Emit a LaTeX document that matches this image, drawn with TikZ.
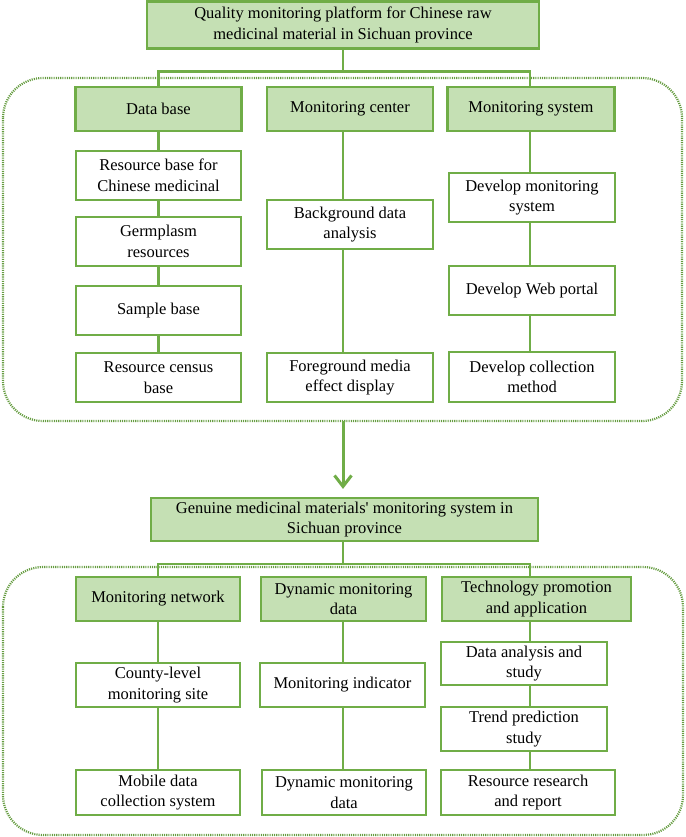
\documentclass[tikz,border=0pt]{standalone}
\usepackage{fontspec}
\setmainfont{Liberation Serif}[Ligatures=TeXOff]
\usetikzlibrary{arrows.meta}
\definecolor{leaf}{HTML}{70AD47}
\definecolor{leafbg}{HTML}{C5E0B4}

\begin{document}
\begin{tikzpicture}[x=1pt,y=-1pt]
	\tikzstyle{every node}+=[inner sep=0pt, align=center, font=\fontsize{16.5}{20.5}\selectfont]
	\tikzstyle{hbox}=[draw=leaf, fill=leafbg, line width=2.2pt]
	\tikzstyle{wbox}=[draw=leaf, fill=white, line width=2.2pt]
	\tikzstyle{link}=[draw=leaf, line width=2.2pt]
	\tikzstyle{frame}=[draw=leaf!90!black, line width=2.2pt, dash pattern=on 1.1pt off 1.1pt, rounded corners=40pt]
	\useasboundingbox (0,0) rectangle (685,837);
	\draw [frame] (3,78) rectangle (682,421);
	\draw [frame] (3,567) rectangle (683,835);
	\coordinate (f1s) at (343,421);
	\coordinate (lane3) at (530,0);
	\node [hbox, minimum width=392pt, minimum height=47pt] (top) at (343,25) {Quality monitoring platform for Chinese raw\\medicinal material in Sichuan province};
	\node [hbox, minimum width=166pt, minimum height=44pt] (db) at (158.5,109) {Data base};
	\node [hbox, minimum width=166pt, minimum height=44pt] (mc) at (350,109) {Monitoring center};
	\node [hbox, minimum width=167pt, minimum height=44pt] (ms) at (531,109) {Monitoring system};
	\node [wbox, minimum width=165pt, minimum height=49pt] (r1) at (158.5,175.5) {Resource base for\\Chinese medicinal};
	\node [wbox, minimum width=165pt, minimum height=49pt] (r2) at (158.5,241.5) {Germplasm\\resources};
	\node [wbox, minimum width=165pt, minimum height=49pt] (r3) at (158.5,310.5) {Sample base};
	\node [wbox, minimum width=165pt, minimum height=49pt] (r4) at (158.5,377.5) {Resource census\\base};
	\node [wbox, minimum width=166pt, minimum height=49pt] (bg) at (350,224.5) {Background data\\analysis};
	\node [wbox, minimum width=166pt, minimum height=49pt] (fg) at (350,377.5) {Foreground media\\effect display};
	\node [wbox, minimum width=166pt, minimum height=49pt] (d1) at (532,197.5) {Develop monitoring\\system};
	\node [wbox, minimum width=166pt, minimum height=49pt] (d2) at (532,290.5) {Develop Web portal};
	\node [wbox, minimum width=166pt, minimum height=50pt] (d3) at (532,377) {Develop collection\\method};
	\node [hbox, minimum width=387pt, minimum height=43pt] (gen) at (344.5,519.5) {Genuine medicinal materials{\char39} monitoring system in\\Sichuan province};
	\node [hbox, minimum width=164pt, minimum height=44pt] (mn) at (158,599) {Monitoring network};
	\node [hbox, minimum width=165pt, minimum height=44pt] (dm) at (343.5,599) {Dynamic monitoring\\data};
	\node [hbox, minimum width=189pt, minimum height=44pt] (tp) at (536.5,599) {Technology promotion\\and application};
	\node [wbox, minimum width=164pt, minimum height=44pt] (cs) at (158,685) {County-level\\monitoring site};
	\node [wbox, minimum width=164pt, minimum height=45pt] (mb) at (158,792.5) {Mobile data\\collection system};
	\node [wbox, minimum width=165pt, minimum height=44pt] (mi) at (342.5,685) {Monitoring indicator};
	\node [wbox, minimum width=164pt, minimum height=45pt] (dd) at (344,792.5) {Dynamic monitoring\\data};
	\node [wbox, minimum width=166pt, minimum height=43pt] (da) at (524,663.5) {Data analysis and\\study};
	\node [wbox, minimum width=166pt, minimum height=44pt] (tr) at (524,729) {Trend prediction\\study};
	\node [wbox, minimum width=174pt, minimum height=45pt] (rr) at (528,792.5) {Resource research\\and report};
	\draw [link] (top.south) -- ++(0,22) coordinate (fork1);
	\draw [link] (db.north) |- (fork1) -| (ms.north -| lane3);
	\draw [link] (db.south) -- (r1.north) (r1.south) -- (r2.north) (r2.south) -- (r3.north) (r3.south) -- (r4.north);
	\draw [link] (mc.south -| fork1) -- (bg.north -| fork1) (bg.south -| fork1) -- (fg.north -| fork1);
	\draw [link] (ms.south -| lane3) -- (d1.north -| lane3) (d1.south -| lane3) -- (d2.north -| lane3) (d2.south -| lane3) -- (d3.north -| lane3);
	\draw [link, line width=3pt, -{Straight Barb[length=11pt,width=17pt]}, shorten >=8pt] (f1s) -- (gen.north -| f1s);
	\draw [link] (gen.south -| f1s) -- ++(0,22) coordinate (fork2);
	\draw [link] (mn.north) |- (fork2) -| (tp.north -| lane3);
	\draw [link] (mn.south) -- (cs.north) (cs.south) -- (mb.north);
	\draw [link] (dm.south -| fork2) -- (mi.north -| fork2) (mi.south -| fork2) -- (dd.north -| fork2);
	\draw [link] (tp.south -| lane3) -- (da.north -| lane3) (da.south -| lane3) -- (tr.north -| lane3) (tr.south -| lane3) -- (rr.north -| lane3);
\end{tikzpicture}
\end{document}
